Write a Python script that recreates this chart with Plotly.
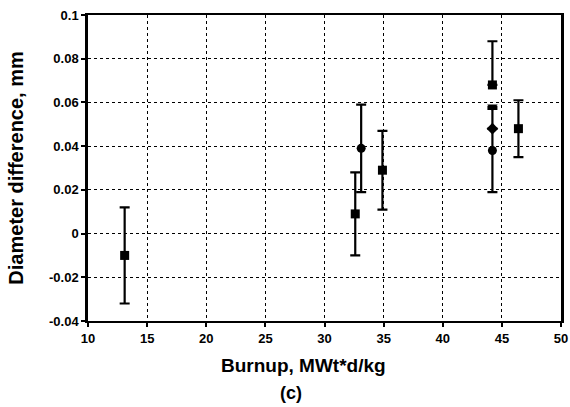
import plotly.graph_objects as go

# Data
burnup = [13.1, 32.6, 33.1, 34.9, 44.2, 44.2, 44.2, 44.2, 46.4]
diam = [-0.010, 0.009, 0.039, 0.029, 0.068, 0.058, 0.048, 0.038, 0.048]
err_plus = [0.022, 0.019, 0.020, 0.018, 0.020, 0.0, 0.0, 0.019, 0.013]
err_minus = [0.022, 0.019, 0.020, 0.018, 0.0, 0.0, 0.0, 0.019, 0.013]
symbols = ["square", "square", "circle", "square", "square", "triangle-down", "diamond", "circle", "square"]

x_ticks = [10, 15, 20, 25, 30, 35, 40, 45, 50]
y_ticks = [-0.04, -0.02, 0, 0.02, 0.04, 0.06, 0.08, 0.1]
y_tick_text = ["-0.04", "-0.02", "0", "0.02", "0.04", "0.06", "0.08", "0.1"]

x_title = "Burnup, MWt*d/kg"
y_title = "Diameter difference, mm"
panel_label = "(c)"

fig = go.Figure()
fig.add_trace(go.Scatter(
    x=burnup, y=diam, mode="markers",
    marker=dict(symbol=symbols, size=9, color="black"),
    error_y=dict(type="data", symmetric=False, array=err_plus, arrayminus=err_minus,
                 color="black", thickness=2.2, width=5),
    showlegend=False, hoverinfo="skip",
))

fam = "Liberation Sans, Arial, sans-serif"
axis_font = dict(family=fam, size=13, color="black", weight="bold")
title_font = dict(family=fam, size=19, color="black", weight="bold")
fig.update_layout(
    width=570, height=407,
    margin=dict(l=88, r=9, t=15, b=86, autoexpand=False),
    paper_bgcolor="white", plot_bgcolor="white",
    font=dict(family=fam, color="black"),
    xaxis=dict(
        range=[10, 50], tickvals=x_ticks,
        ticks="outside", ticklen=4, tickwidth=1.5,
        tickcolor="black", tickfont=axis_font,
        showgrid=True, gridcolor="black", griddash="dot", gridwidth=1,
        showline=True, linecolor="black", linewidth=2, mirror=True,
        zeroline=False, automargin=False,
    ),
    yaxis=dict(
        range=[-0.04, 0.1], tickvals=y_ticks, ticktext=y_tick_text,
        ticks="outside", ticklen=4, tickwidth=1.5, tickcolor="black", tickfont=axis_font,
        showgrid=True, gridcolor="black", griddash="dot", gridwidth=1,
        showline=True, linecolor="black", linewidth=2.5, mirror=True,
        zeroline=False, automargin=False,
    ),
    annotations=[
        dict(text=x_title, x=0.456, xref="paper", y=-0.144, yref="paper",
             xanchor="center", yanchor="middle", showarrow=False, font=title_font),
        dict(text=panel_label, x=0.429, xref="paper", y=-0.235, yref="paper",
             xanchor="center", yanchor="middle", showarrow=False,
             font=dict(family=fam, size=18, color="black", weight="bold")),
        dict(text=y_title, textangle=-90, x=-0.153, xref="paper", y=0.5, yref="paper",
             xanchor="center", yanchor="middle", showarrow=False,
             font=dict(family=fam, size=20, color="black", weight="bold")),
    ],
)

fig.write_html("out.html", config={"displayModeBar": False},
               post_script="document.body.style.margin='0';")
